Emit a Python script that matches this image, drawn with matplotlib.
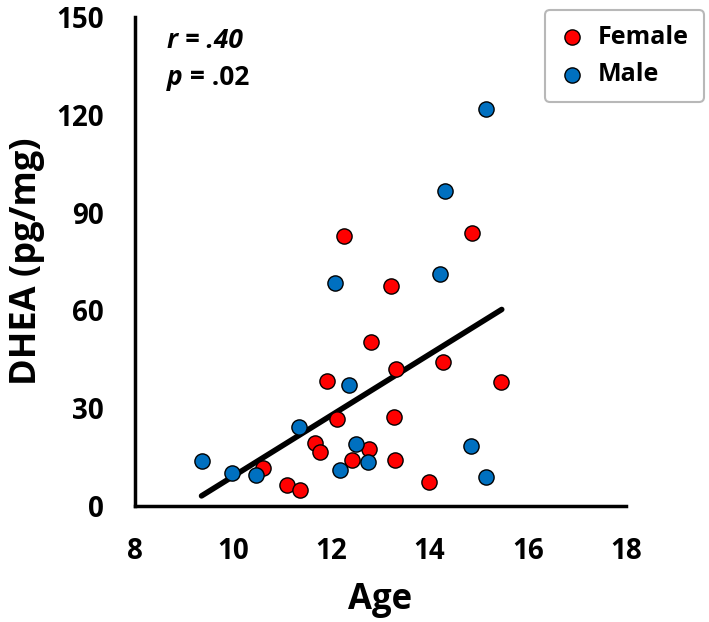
import numpy as np
import matplotlib
matplotlib.use("Agg")
import matplotlib.pyplot as plt

plt.rcParams['font.family'] = ['Open Sans', 'DejaVu Sans']

# data
female_age = [12.25, 14.86, 13.21, 12.81, 13.32, 11.92, 12.11, 13.27, 11.67, 11.78,
              12.77, 12.42, 13.30, 10.61, 11.09, 11.37, 13.99, 14.27, 15.45]
female_dhea = [82.9, 83.7, 67.6, 50.3, 42.0, 38.3, 26.6, 27.3, 19.4, 16.6,
               17.5, 14.1, 14.0, 11.6, 6.4, 5.0, 7.3, 44.1, 37.9]
male_age = [15.14, 14.31, 14.21, 12.07, 12.36, 11.34, 9.36, 9.99, 10.46, 12.17,
            12.50, 12.75, 14.84, 15.14]
male_dhea = [121.7, 96.5, 71.3, 68.5, 37.0, 24.1, 13.8, 10.2, 9.5, 10.9,
             19.1, 13.6, 18.4, 8.8]
fit_age = [9.36, 15.47]
fit_dhea = [3.1, 60.3]
x_ticks = [8, 10, 12, 14, 16, 18]
y_ticks = [0, 30, 60, 90, 120, 150]

fig = plt.figure(figsize=(7.09, 6.22), dpi=100)
ax = fig.add_axes([0.190, 0.1865, 0.693, 0.786])

ax.plot(fit_age, fit_dhea, color='black', linewidth=4, solid_capstyle='round', zorder=3)
ax.scatter(female_age, female_dhea, s=120, color='#FF0000', edgecolor='black',
           linewidth=1, label='Female', zorder=4)
ax.scatter(male_age, male_dhea, s=120, color='#0070C0', edgecolor='black',
           linewidth=1, label='Male', zorder=4)

ax.set_xlim(8, 18)
ax.set_ylim(0, 150)
ax.set_xticks(x_ticks)
ax.set_yticks(y_ticks)
ax.tick_params(length=0, labelsize=20)
ax.tick_params(axis='x', pad=22)
ax.tick_params(axis='y', pad=22)
for lab in ax.get_xticklabels() + ax.get_yticklabels():
    lab.set_fontweight('bold')

for s in ['top', 'right']:
    ax.spines[s].set_visible(False)
for s in ['left', 'bottom']:
    ax.spines[s].set_linewidth(2.5)

ax.set_xlabel('Age', fontsize=25, fontweight='bold', labelpad=12)
ax.set_ylabel('DHEA (pg/mg)', fontsize=26, fontweight='bold', labelpad=8)

ax.text(0.065, 0.9366, 'r = .40', transform=ax.transAxes,
        fontsize=19, fontweight='bold', fontstyle='italic', va='baseline')
ax.text(0.065, 0.861, 'p', transform=ax.transAxes,
        fontsize=19, fontweight='bold', fontstyle='italic', va='baseline')
ax.annotate(' = .02', xy=(0.065, 0.861), xycoords='axes fraction',
            xytext=(11.5, 0), textcoords='offset points',
            fontsize=19, fontweight='bold', va='baseline')

leg = ax.legend(loc='upper right', bbox_to_anchor=(0.993, 0.984),
                bbox_transform=fig.transFigure, fontsize=18, frameon=True,
                fancybox=True, edgecolor='#A6A6A6', handletextpad=0.56,
                borderpad=0.6, labelspacing=0.5, handlelength=0.96,
                borderaxespad=0)
leg.get_frame().set_linewidth(1.5)
for t in leg.get_texts():
    t.set_fontweight('bold')

fig.savefig('out.png', dpi=100)
